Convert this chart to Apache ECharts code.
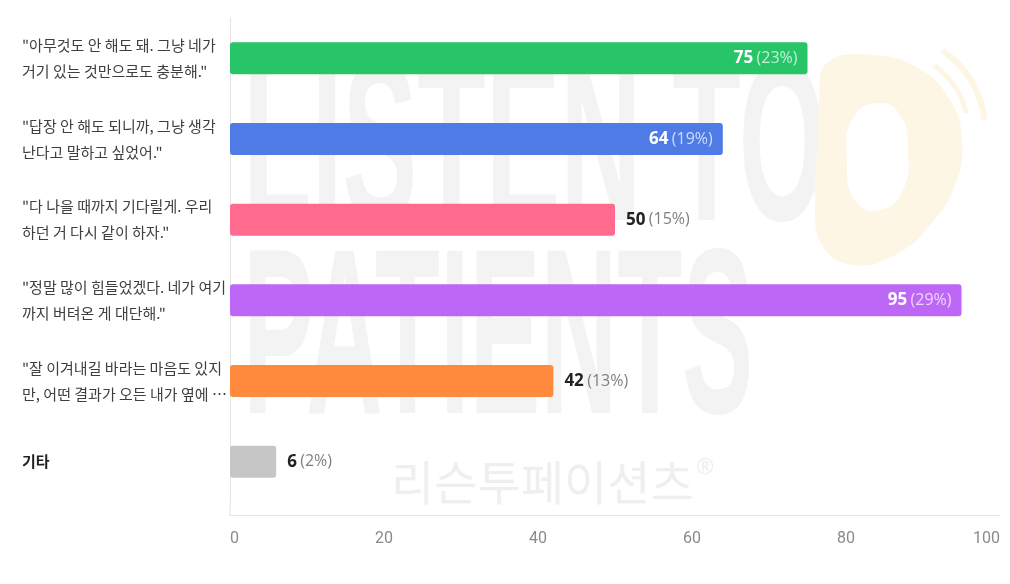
<!DOCTYPE html>
<html>
<head>
<meta charset="utf-8">
<script src="https://cdn.jsdelivr.net/npm/echarts@6/dist/echarts.min.js"></script>
<style>
html,body{margin:0;padding:0;background:#ffffff;}
#chart{width:1010px;height:584px;}
</style>
</head>
<body>
<div id="chart"></div>
<script>
const categories = [
  '"아무것도 안 해도 돼. 그냥 네가\n거기 있는 것만으로도 충분해."',
  '"답장 안 해도 되니까, 그냥 생각\n난다고 말하고 싶었어."',
  '"다 나을 때까지 기다릴게. 우리\n하던 거 다시 같이 하자."',
  '"정말 많이 힘들었겠다. 네가 여기\n까지 버텨온 게 대단해."',
  '"잘 이겨내길 바라는 마음도 있지\n만, 어떤 결과가 오든 내가 옆에 …',
  '기타'
];
const values = [75, 64, 50, 95, 42, 6];
const xTicks = { min: 0, max: 100, interval: 20 };

const palette = ['#27c567', '#4e7be6', '#ff6a8e', '#bd67f7', '#ff8a3d', '#c6c6c6'];
const total = values.reduce((a, b) => a + b, 0);
const FONT_KR = '"Noto Sans CJK KR", "Noto Sans", sans-serif';
const FONT_NUM = '"Open Sans", "Noto Sans", sans-serif';

const insideLabel = {
  show: true, position: 'insideRight', distance: 10,
  rich: {
    v: { color: '#ffffff', fontWeight: 'bold', fontSize: 17, fontFamily: FONT_NUM },
    p: { color: 'rgba(255,255,255,0.72)', fontSize: 16, fontFamily: FONT_NUM }
  }
};
const outsideLabel = {
  show: true, position: 'right', distance: 11,
  rich: {
    v: { color: '#222222', fontWeight: 'bold', fontSize: 17, fontFamily: FONT_NUM },
    p: { color: '#808080', fontSize: 16, fontFamily: FONT_NUM }
  }
};

const chart = echarts.init(document.getElementById('chart'));
chart.setOption({
  backgroundColor: '#ffffff',
  animation: false,
  graphic: [
    { type: 'text', silent: true, z: -10, x: 243, y: 157, scaleX: 1.4, scaleY: 2.85,
      style: { text: 'LISTEN TO', font: 'bold 80px "Liberation Sans"', fill: '#f3f3f3', align: 'left', verticalAlign: 'middle' } },
    { type: 'text', silent: true, z: -10, x: 243, y: 348, scaleX: 1.33, scaleY: 2.95,
      style: { text: 'PATIENTS', font: 'bold 80px "Liberation Sans"', fill: '#f3f3f3', align: 'left', verticalAlign: 'middle' } },
    { type: 'text', silent: true, z: -10, x: 391, y: 482,
      style: { text: '리슨투페이션츠', font: '47px "Noto Sans CJK KR"', fill: '#efefef', align: 'left', verticalAlign: 'middle' } },
    { type: 'text', silent: true, z: -10, x: 696, y: 468,
      style: { text: '®', font: '22px "Noto Sans"', fill: '#efefef', align: 'left', verticalAlign: 'middle' } },
    { type: 'polygon', silent: true, z: -9,
      shape: { smooth: 0.45, points: [[827,63],[873,55],[918,68],[950,100],[962,140],[955,185],[930,225],[895,255],[853,265],[822,245],[815,200],[817,150],[819,100]] },
      style: { fill: '#fdf6e4' } },
    { type: 'polygon', silent: true, z: -8,
      shape: { smooth: 0.5, points: [[877,103],[900,115],[908,150],[903,190],[880,210],[855,200],[847,160],[852,120]] },
      style: { fill: '#ffffff' } },
    { type: 'arc', silent: true, z: -9,
      shape: { cx: 890, cy: 130, r: 95, startAngle: -0.985, endAngle: -0.107 },
      style: { stroke: '#fdf6e4', lineWidth: 6, fill: null } },
    { type: 'arc', silent: true, z: -9,
      shape: { cx: 890, cy: 130, r: 78, startAngle: -0.97, endAngle: -0.22 },
      style: { stroke: '#fdf6e4', lineWidth: 5, fill: null } },
    { type: 'line', silent: true, z: 1,
      shape: { x1: 230, y1: 502, x2: 230, y2: 515 },
      style: { stroke: '#e3e3e3', lineWidth: 1 } }
  ],
  grid: { left: 230, right: 10, top: 18, bottom: 82, containLabel: false },
  xAxis: {
    type: 'value',
    min: xTicks.min, max: xTicks.max, interval: xTicks.interval,
    offset: 13,
    axisLine: { show: true, lineStyle: { color: '#e3e3e3', width: 1 } },
    axisTick: { show: false },
    splitLine: { show: false },
    axisLabel: {
      color: '#8a8a8a', fontSize: 16, fontFamily: 'Roboto, sans-serif', margin: 16,
      alignMinLabel: 'left', alignMaxLabel: 'right'
    }
  },
  yAxis: {
    type: 'category',
    inverse: true,
    data: categories,
    axisLine: { show: true, lineStyle: { color: '#e3e3e3', width: 1 } },
    axisTick: { show: false },
    axisLabel: {
      align: 'left', margin: 208,
      formatter: function (v) { return v === '기타' ? '{b|' + v + '}' : '{a|' + v + '}'; },
      rich: {
        a: { color: '#3f3f3f', fontSize: 15, lineHeight: 26, fontFamily: FONT_KR },
        b: { color: '#222222', fontSize: 15, fontWeight: 'bold', lineHeight: 26, fontFamily: FONT_KR }
      }
    }
  },
  series: [{
    type: 'bar',
    barWidth: 32,
    z: 2,
    itemStyle: { borderRadius: 3 },
    label: {
      formatter: function (p) {
        return '{v|' + p.value + '} {p|(' + Math.round(p.value / total * 100) + '%)}';
      }
    },
    data: values.map(function (v, i) {
      return { value: v, itemStyle: { color: palette[i] }, label: v >= 60 ? insideLabel : outsideLabel };
    })
  }]
});
</script>
</body>
</html>
